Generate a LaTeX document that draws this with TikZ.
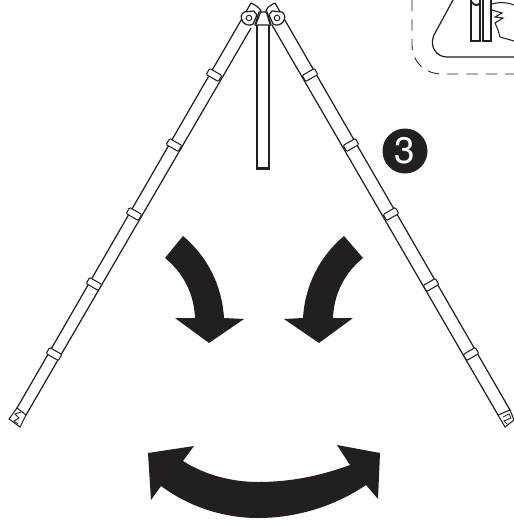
\documentclass[tikz,border=0pt]{standalone}
\usepackage{fontspec}
\usepackage{xcolor}
\setmainfont{TeX Gyre Heros}
\definecolor{colorOne}{HTML}{231F20}
\definecolor{colorTwo}{HTML}{FFFFFF}
\def\colorOne{colorOne}
\def\colorTwo{colorTwo}
\newcommand{\legband}[3]{
    \begin{scope}[shift={(#1,#2)},rotate=#3]
        \draw[color=\colorOne, fill=\colorTwo, line width=0.6pt, rounded corners=0.6] (-3.5,-7) -- (-3.5,7) -- (3.5,7) -- (3.5,-7) -- cycle;
    \end{scope}
}
\begin{document}
\begin{tikzpicture}[x=0.02cm,y=-0.02cm]
    \useasboundingbox (0,0) rectangle (514,521);

    % Jambe gauche
    \draw[line width=0.7pt, color=\colorOne] (251,3) -- (17,408);
    \draw[line width=0.7pt, color=\colorOne] (251,28) -- (26,415);
    \draw[line width=0.6pt, color=\colorOne] (17,408) -- (26,415) -- (20,427) -- (9,419) -- cycle;
    \draw[line width=0.5pt, color=\colorOne] (21,412) -- (15,414) -- (19,418) -- (14,421) -- (18,424);
    \foreach \x/\y in {214/75,174/145,134/214,94/284,54/354} {
        \legband{\x}{\y}{60}
    }

    % Jambe droite
    \draw[line width=0.7pt, color=\colorOne] (275,3) -- (510,410);
    \draw[line width=0.7pt, color=\colorOne] (272,25) -- (498,415);
    \draw[line width=0.6pt, color=\colorOne] (498,415) -- (510,410) -- (514,420) -- (505,427) -- cycle;
    \draw[line width=0.5pt, color=\colorOne] (503,417) -- (509,414) -- (511,418) -- (504,421) -- (507,424);
    \foreach \x/\y in {310/75,351/145,391/214,431/285,471/354} {
        \legband{\x}{\y}{-60}
    }

    % Montant central
    \draw[line width=0.8pt, color=\colorOne] (257,25) -- (257,169) -- (269,169) -- (269,25);
    \draw[line width=0.4pt, color=\colorOne] (257,167) -- (269,167);

    % Articulation
    \draw[line width=0.7pt, color=\colorOne] (251,3) .. controls (255,5) and (259,7) .. (261,11) -- (256,24);
    \draw[line width=0.7pt, color=\colorOne] (275,3) .. controls (271,5) and (267,7) .. (266,11) -- (270,24);
    \draw[line width=0.7pt, color=\colorOne] (259,12) -- (267,12) -- (271,25) -- (255,25) -- cycle;
    \draw[color=\colorOne, fill=\colorTwo, line width=0.7pt] (244,12) -- (254,11) -- (257,15) -- (253,24) .. controls (250,26) and (245,25) .. (243,22) .. controls (240,18) and (241,14) .. (244,12);
    \draw[color=\colorOne, fill=\colorTwo, line width=0.7pt] (282,12) -- (272,11) -- (269,15) -- (273,24) .. controls (276,26) and (281,25) .. (283,22) .. controls (286,18) and (285,14) .. (282,12);
    \draw[line width=0.5pt, color=\colorOne] (249,18) circle (2.8);
    \draw[line width=0.5pt, color=\colorOne] (277,18) circle (2.8);

    % Encart
    \draw[line width=0.5pt, color=\colorOne, dash pattern=on 6.5pt off 4.5pt] (412,0) -- (412,45) .. controls (412,62) and (425,74) .. (442,74) -- (514,74);
    \draw[line width=0.7pt, color=\colorOne] (453,0) -- (434,35) .. controls (429,46) and (436,57) .. (447,57) -- (514,57);
    \draw[line width=0.7pt, color=\colorOne] (471,0) -- (471,41) -- (480,41) -- (480,0);
    \draw[line width=0.7pt, color=\colorOne] (483,0) -- (483,41) -- (491,41) -- (491,0);
    \draw[line width=1pt, color=\colorOne] (472,2) .. controls (474,6) and (478,6) .. (480,3);
    \draw[line width=0.6pt, color=\colorOne] (492,4) .. controls (498,2) and (507,2) .. (514,5);
    \draw[line width=0.6pt, color=\colorOne] (492,10) -- (502,13) -- (495,17) -- (503,18) -- (495,23) -- (498,30) -- (500,37) -- (514,41);

    % Pastille
    \node[circle, fill=\colorOne, text=\colorTwo, minimum size=45*0.02cm, inner sep=0pt, font=\fontsize{21pt}{24pt}\selectfont] (stepthree) at (405,151) {3};

    % Fleches du haut
    \fill[fill=\colorOne] (183,236) -- (165,258) .. controls (182,272) and (194,292) .. (195,318) -- (175,318) -- (209,343) -- (244,319) -- (224,318) .. controls (222,285) and (207,256) .. (183,236) -- cycle;
    \fill[fill=\colorOne] (344,236) -- (363,258) .. controls (346,272) and (334,292) .. (333,318) -- (353,318) -- (319,343) -- (284,319) -- (303,318) .. controls (305,285) and (320,256) .. (344,236) -- cycle;

    % Fleche du bas
    \fill[fill=\colorOne] (148,453) -- (194,446) -- (183,461) .. controls (205,475) and (232,482) .. (258,482) .. controls (290,482) and (320,476) .. (350,465) -- (337,445) -- (380,453) -- (378,499) -- (366,485) .. controls (335,506) and (297,518) .. (258,518) .. controls (222,518) and (188,506) .. (161,486) -- (151,500) -- cycle;
\end{tikzpicture}
\end{document}
